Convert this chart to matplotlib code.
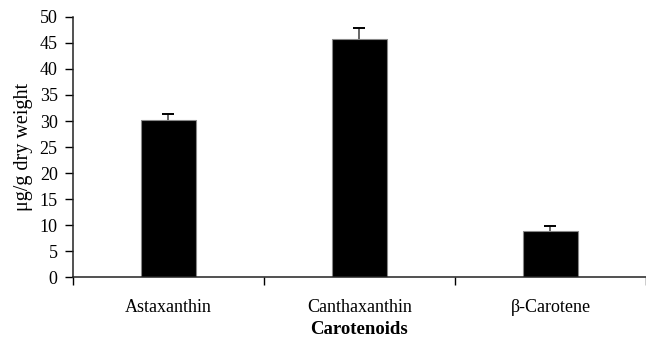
import numpy as np
import matplotlib.pyplot as plt

# --- Data ---
categories = ["Astaxanthin", "Canthaxanthin", "\u03b2-Carotene"]
values = [30.2, 45.8, 8.9]
errors = [1.1, 2.0, 0.9]

plt.rcParams['font.family'] = ['Liberation Serif', 'DejaVu Serif']

fig = plt.figure(figsize=(6.46, 3.38), dpi=100)
ax = fig.add_axes([0.113, 0.180, 0.887, 0.770])

x = np.arange(len(categories))
ax.bar(x, values, width=0.29, color='black', edgecolor='#888888', linewidth=0.8, zorder=2)
# one-sided error bars: grey stem with a black cap on top
ax.errorbar(x, values, yerr=[np.zeros(len(errors)), errors], fmt='none',
            ecolor='#666666', elinewidth=1.4, capsize=0, zorder=3)
ax.plot(x, np.add(values, errors), ls='none', marker='_', ms=9, mew=1.4,
        color='black', zorder=4)

ax.set_xlim(-0.5, len(categories) - 0.5)
ax.set_ylim(0, 50)
ax.set_yticks(np.arange(0, 51, 5))

ax.set_xticks(x)
ax.set_xticklabels(categories)
ax.set_xticks(np.arange(-0.5, len(categories), 1), minor=True)
ax.tick_params(axis='x', which='major', length=0, pad=16, labelsize=13)
ax.tick_params(axis='x', which='minor', length=6, direction='out', width=1)
ax.tick_params(axis='y', length=6, direction='out', width=1, labelsize=13, pad=5)

for side in ['top', 'right']:
    ax.spines[side].set_visible(False)
for side in ['left', 'bottom']:
    ax.spines[side].set_linewidth(1.1)
    ax.spines[side].set_color('#222222')

ax.set_ylabel("\u03bcg/g dry weight", fontsize=14.5, labelpad=5)
ax.set_xlabel("Carotenoids", fontsize=13.5, fontweight='bold', labelpad=3)

fig.savefig("out.png", dpi=100)
